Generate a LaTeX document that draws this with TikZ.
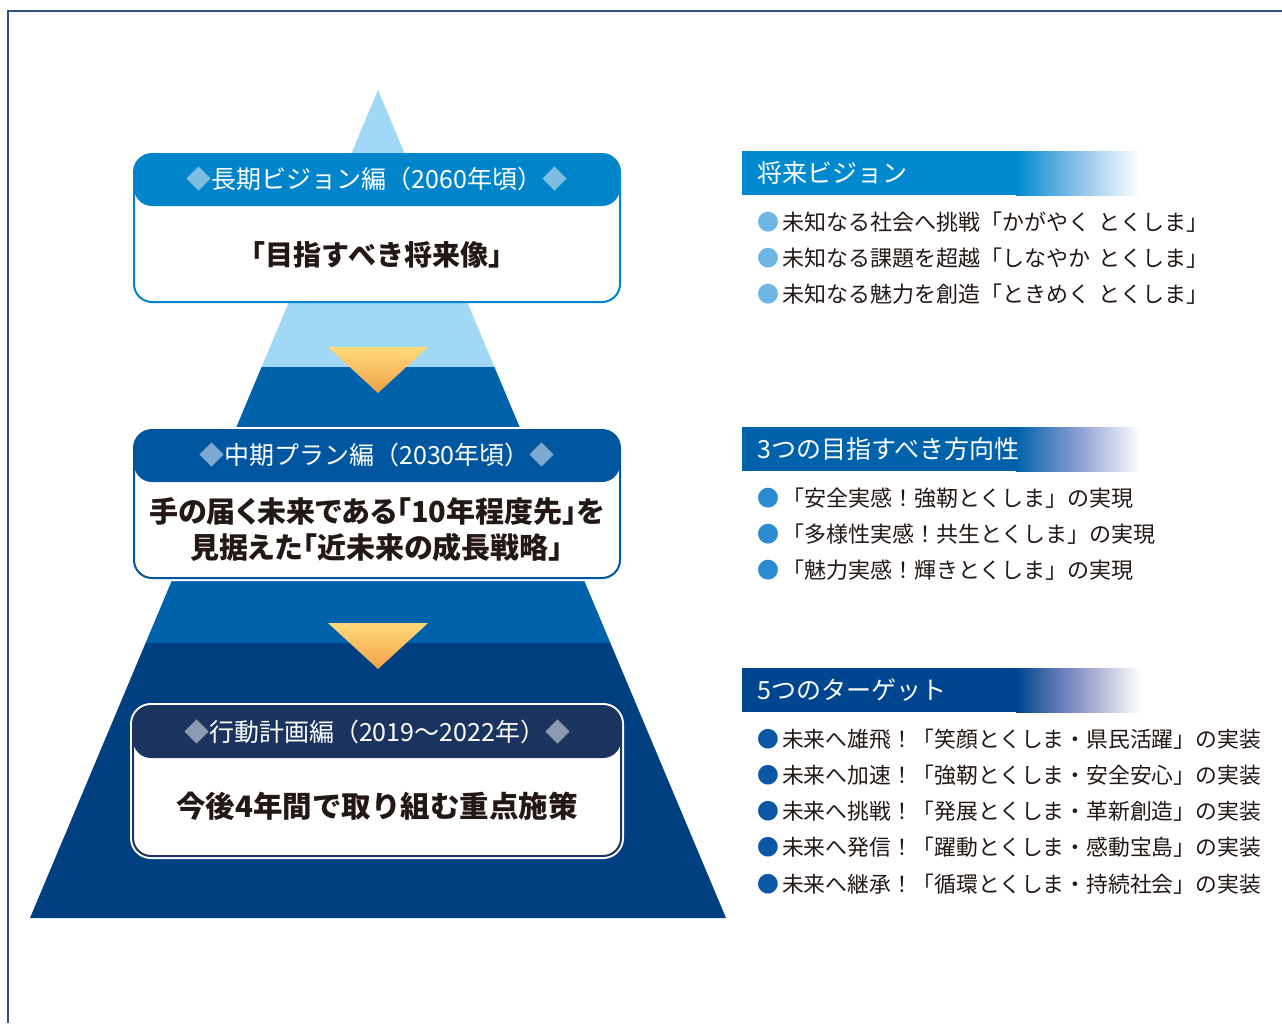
\documentclass[tikz,border=0pt]{standalone}
\usepackage{fontspec}
\setmainfont{Noto Sans CJK JP}
\newfontfamily\paltfont{Noto Sans CJK JP}[RawFeature=+palt]
\usepackage{xcolor}
\usetikzlibrary{positioning}

\definecolor{frameblue}{HTML}{2E4F86}
\definecolor{pyrlight}{HTML}{A0D8F5}
\definecolor{pyrmid}{HTML}{0062AB}
\definecolor{pyrdeep}{HTML}{003F80}
\definecolor{longblue}{HTML}{0085CA}
\definecolor{midblue}{HTML}{00569F}
\definecolor{actnavy}{HTML}{1B335F}
\definecolor{longdia}{HTML}{7FBCE2}
\definecolor{middia}{HTML}{7FA8D0}
\definecolor{actdia}{HTML}{8D99B0}
\definecolor{arrowtop}{HTML}{FFDB7A}
\definecolor{arrowbot}{HTML}{F1A049}
\definecolor{visbar}{HTML}{0089CF}
\definecolor{dirbar}{HTML}{0062AB}
\definecolor{tgtbar}{HTML}{00458F}
\definecolor{visfade}{HTML}{8CC3EA}
\definecolor{dirfade}{HTML}{8D9ED3}
\definecolor{tgtfade}{HTML}{8C95C8}
\definecolor{visdot}{HTML}{6EB6E6}
\definecolor{dirdot}{HTML}{2A8BD0}
\definecolor{tgtdot}{HTML}{0B57A5}
\definecolor{inktext}{HTML}{231815}

\begin{document}
\begin{tikzpicture}[
    x=1pt, y=-1pt,
    % Stage boxes on the pyramid - white body, coloured header band
    stagebox/.style={
        rectangle, rounded corners=18pt, draw=#1,
        minimum width=486pt, minimum height=148pt,
        fill=white, line width=2pt,
        path picture={\fill[#1] (path picture bounding box.north west)
            rectangle ([yshift=-52pt]path picture bounding box.north east);}
    },
    ringed/.style={preaction={draw=white, line width=6pt}},
    stagehead/.style={font=\fontsize{25}{30}\selectfont, text=white, inner sep=0pt},
    stagebody/.style={font=\fontsize{28}{36}\selectfont\bfseries, text=inktext,
        align=center, inner sep=0pt},
    % Section bars on the right - solid colour fading out to white
    headbar/.style 2 args={
        rectangle, anchor=north west,
        minimum height=44pt, text width=368pt, inner xsep=15pt, inner ysep=0pt,
        align=left, text=white, font=\fontsize{25}{30}\selectfont,
        path picture={
            \fill[#1] (path picture bounding box.north west)
                rectangle ([xshift=-124pt]path picture bounding box.south east);
            \shade[left color=#1, right color=white, middle color=#2]
                ([xshift=-124pt]path picture bounding box.north east)
                rectangle (path picture bounding box.south east);
        }
    },
    item/.style={anchor=west, inner sep=0pt, text=inktext,
        font=\fontsize{22}{26}\selectfont},
]

\useasboundingbox (0,0) rectangle (1282,1023);

% Page frame
\draw[frameblue, line width=1.5pt] (8,1023) -- (8,11) -- (1282,11);

% Pyramid in three bands
\coordinate (apex) at (378,90);
\coordinate (baseL) at (30,918);
\coordinate (baseR) at (726,918);
\begin{scope}
\clip (apex) -- (baseL) -- (baseR) -- cycle;
\fill[pyrlight] (0,80) rectangle (1282,367);
\fill[pyrmid] (0,367) rectangle (1282,643);
\fill[pyrdeep] (0,643) rectangle (1282,919);
\end{scope}

% Downward markers between the stages
\shade[top color=arrowtop, bottom color=arrowbot] (328,347) -- (428,347) -- (378,393) -- cycle;
\shade[top color=arrowtop, bottom color=arrowbot] (328,623) -- (428,623) -- (378,669) -- cycle;

% Stage boxes
\node[stagebox=longblue] (vision) at (377,228) {};
\node[stagebox=midblue, ringed] (plan) at (377,504) {};
\node[stagebox=actnavy, ringed, minimum width=488pt, minimum height=150pt] (action) at (377,781) {};

\node[stagehead] (visionhead) at ([yshift=-26pt]vision.north)
    {{\color{longdia}◆}長期ビジョン編（2060年頃）{\color{longdia}◆}};
\node[stagebody] (visionbody) at (377,255) {「目指すべき将来像」};

\node[stagehead] (planhead) at ([yshift=-26pt]plan.north)
    {{\color{middia}◆}中期プラン編（2030年頃）{\color{middia}◆}};
\node[stagebody, font=\fontsize{29}{36}\selectfont\paltfont\bfseries] (planbody) at (377,530)
    {手の届く未来である「10年程度先」を\\見据えた「近未来の成長戦略」};

\node[stagehead] (actionhead) at ([yshift=-27pt]action.north)
    {{\color{actdia}◆}行動計画編（2019～2022年）{\color{actdia}◆}};
\node[stagebody, font=\fontsize{29.5}{36}\selectfont\bfseries] (actionbody) at (377,806) {今後4年間で取り組む重点施策};

% Future vision
\node[headbar={visbar}{visfade}] (vishead) at (742,151) {将来ビジョン};
\node[item] (vis1) at (757,222) {{\color{visdot}●}\hspace{3pt}未知なる社会へ挑戦「かがやく\hspace{.4em}とくしま」};
\node[item] (vis2) at (757,258) {{\color{visdot}●}\hspace{3pt}未知なる課題を超越「しなやか\hspace{.4em}とくしま」};
\node[item] (vis3) at (757,294) {{\color{visdot}●}\hspace{3pt}未知なる魅力を創造「ときめく\hspace{.4em}とくしま」};

% Three directions
\node[headbar={dirbar}{dirfade}] (dirhead) at (742,427) {3つの目指すべき方向性};
\node[item] (dir1) at (757,498) {{\color{dirdot}●}\hspace{3pt}「安全実感！強靭とくしま」の実現};
\node[item] (dir2) at (757,534) {{\color{dirdot}●}\hspace{3pt}「多様性実感！共生とくしま」の実現};
\node[item] (dir3) at (757,570) {{\color{dirdot}●}\hspace{3pt}「魅力実感！輝きとくしま」の実現};

% Five targets
\node[headbar={tgtbar}{tgtfade}] (tgthead) at (742,668) {5つのターゲット};
\node[item, font=\fontsize{21.8}{26}\selectfont] (tgt1) at (757,739) {{\color{tgtdot}●}\hspace{3pt}未来へ雄飛！「笑顔とくしま・県民活躍」の実装};
\node[item, font=\fontsize{21.8}{26}\selectfont] (tgt2) at (757,775) {{\color{tgtdot}●}\hspace{3pt}未来へ加速！「強靭とくしま・安全安心」の実装};
\node[item, font=\fontsize{21.8}{26}\selectfont] (tgt3) at (757,811) {{\color{tgtdot}●}\hspace{3pt}未来へ挑戦！「発展とくしま・革新創造」の実装};
\node[item, font=\fontsize{21.8}{26}\selectfont] (tgt4) at (757,847) {{\color{tgtdot}●}\hspace{3pt}未来へ発信！「躍動とくしま・感動宝島」の実装};
\node[item, font=\fontsize{21.8}{26}\selectfont] (tgt5) at (757,884) {{\color{tgtdot}●}\hspace{3pt}未来へ継承！「循環とくしま・持続社会」の実装};

\end{tikzpicture}
\end{document}
